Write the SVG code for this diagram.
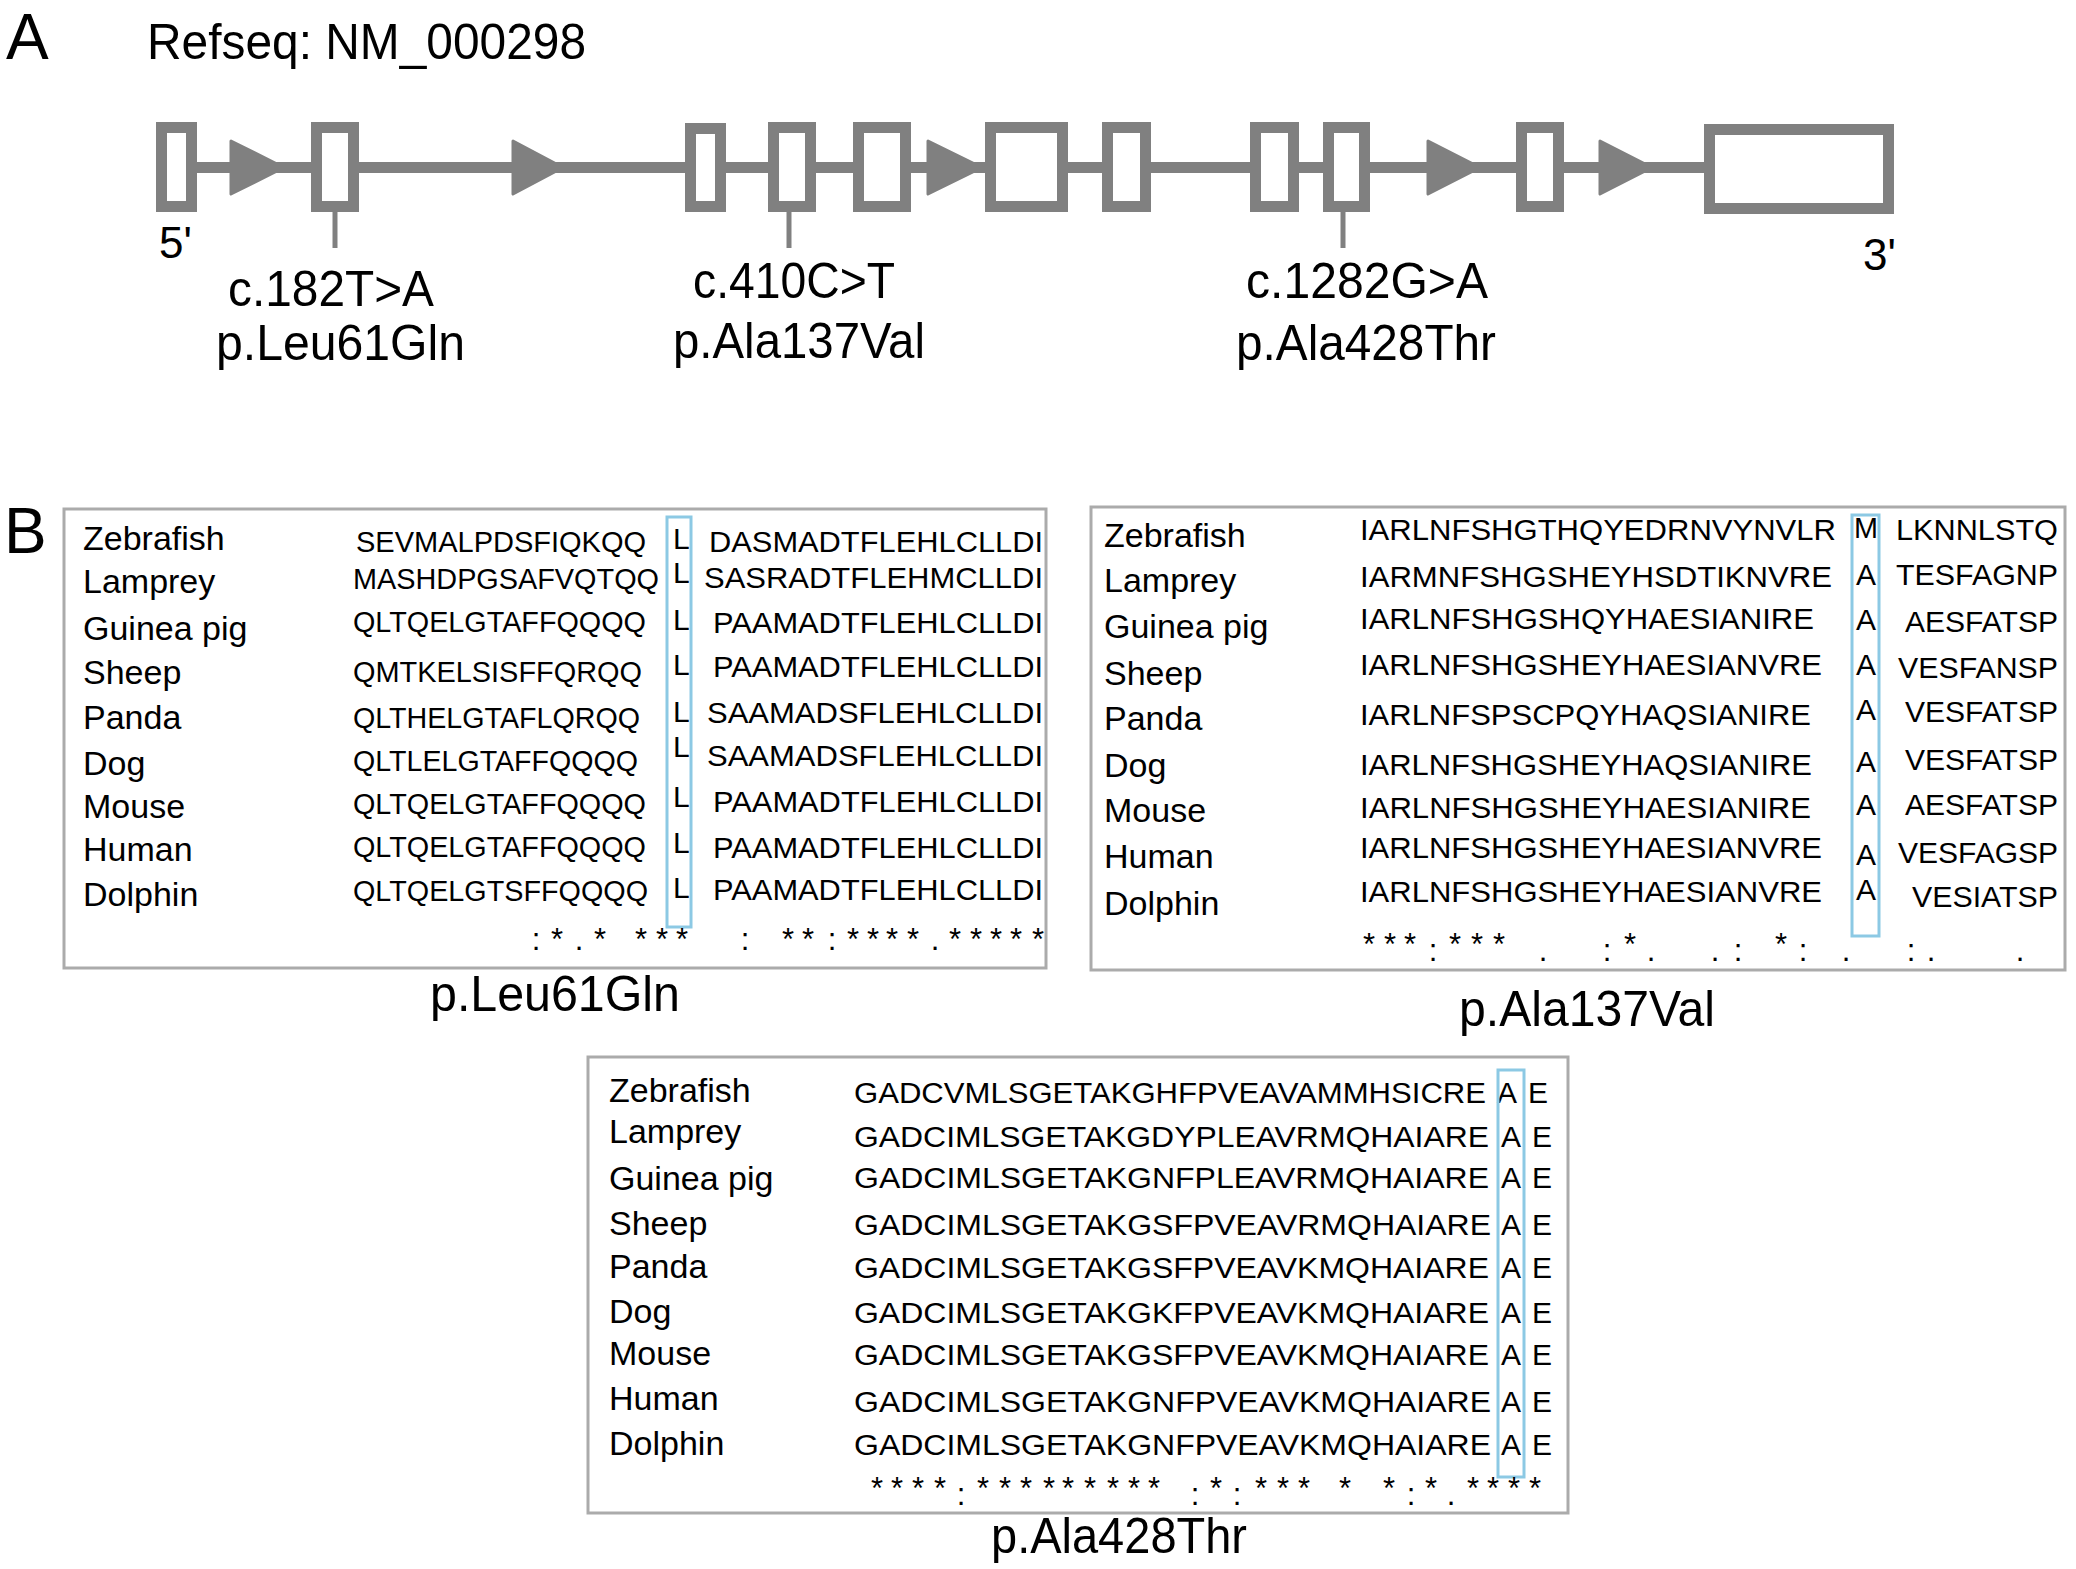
<svg xmlns="http://www.w3.org/2000/svg" width="2076" height="1569" viewBox="0 0 2076 1569">
<style>
text{font-family:"Liberation Sans",Arial,Helvetica,sans-serif;fill:#000}
.big{font-size:64px}
.head{font-size:50px}
.mut{font-size:50px}
.sp{font-size:34px}
.seq{font-size:30px}
.cons{font-size:31px}
.exon{fill:#fff;stroke:#808080;stroke-width:11}
.intron{stroke:#808080;stroke-width:11;fill:none}
.arr{fill:#808080;stroke:#808080;stroke-width:3;stroke-linejoin:round}
.tick{stroke:#808080;stroke-width:5}
.box{fill:#fff;stroke:#ababab;stroke-width:3}
.hl{fill:none;stroke:#8cc9e4;stroke-width:3}
</style>
<rect width="2076" height="1569" fill="#fff"/>

<g id="panel-A">
<text class="big" x="6" y="59">A</text>
<text class="head" x="147" y="59" textLength="439" lengthAdjust="spacingAndGlyphs">Refseq: NM_000298</text>

<g id="connectors">
<line class="intron" x1="197" y1="167.5" x2="1704" y2="167.5"/>
<polygon class="arr" points="231,141 284,167.5 231,194"/>
<polygon class="arr" points="513,141 563,167.5 513,194"/>
<polygon class="arr" points="928,141 982,167.5 928,194"/>
<polygon class="arr" points="1428,141 1480,167.5 1428,194"/>
<polygon class="arr" points="1600,141 1652,167.5 1600,194"/>
<line class="tick" x1="335" y1="212" x2="335" y2="248"/>
<line class="tick" x1="789" y1="212" x2="789" y2="248"/>
<line class="tick" x1="1343" y1="212" x2="1343" y2="248"/>
</g>

<g id="exon1"><rect class="exon" x="161.5" y="127.5" width="30" height="79"/></g>
<g id="exon2"><rect class="exon" x="316.5" y="127.5" width="37" height="79"/></g>
<g id="exon3"><rect class="exon" x="690.5" y="128.5" width="30" height="78"/></g>
<g id="exon4"><rect class="exon" x="773.5" y="127.5" width="37" height="79"/></g>
<g id="exon5"><rect class="exon" x="858.5" y="127.5" width="47" height="79"/></g>
<g id="exon6"><rect class="exon" x="990.5" y="127.5" width="72" height="79"/></g>
<g id="exon7"><rect class="exon" x="1107.5" y="127.5" width="38" height="79"/></g>
<g id="exon8"><rect class="exon" x="1255.5" y="127.5" width="38" height="79"/></g>
<g id="exon9"><rect class="exon" x="1328.5" y="127.5" width="36" height="79"/></g>
<g id="exon10"><rect class="exon" x="1521.5" y="127.5" width="37" height="79"/></g>
<g id="exon11"><rect class="exon" x="1709.5" y="129.5" width="179" height="79"/></g>

<text class="mut" x="159" y="258" style="font-size:44px">5'</text>
<text class="mut" x="1863" y="270" style="font-size:44px">3'</text>

<g id="mut1">
<text class="mut" x="228" y="306" textLength="206" lengthAdjust="spacingAndGlyphs">c.182T&gt;A</text>
<text class="mut" x="216" y="360" textLength="249" lengthAdjust="spacingAndGlyphs">p.Leu61Gln</text>
</g>
<g id="mut2">
<text class="mut" x="693" y="298" textLength="202" lengthAdjust="spacingAndGlyphs">c.410C&gt;T</text>
<text class="mut" x="673" y="358" textLength="252" lengthAdjust="spacingAndGlyphs">p.Ala137Val</text>
</g>
<g id="mut3">
<text class="mut" x="1246" y="298" textLength="242" lengthAdjust="spacingAndGlyphs">c.1282G&gt;A</text>
<text class="mut" x="1236" y="360" textLength="260" lengthAdjust="spacingAndGlyphs">p.Ala428Thr</text>
</g>
</g>

<g id="panel-B">
<text class="big" x="4" y="553">B</text>

<g id="align1">
<rect class="box" x="64" y="509" width="982" height="459"/>
<text class="sp" x="83" y="550">Zebrafish</text>
<text class="sp" x="83" y="593">Lamprey</text>
<text class="sp" x="83" y="640">Guinea pig</text>
<text class="sp" x="83" y="684">Sheep</text>
<text class="sp" x="83" y="729">Panda</text>
<text class="sp" x="83" y="775">Dog</text>
<text class="sp" x="83" y="818">Mouse</text>
<text class="sp" x="83" y="861">Human</text>
<text class="sp" x="83" y="906">Dolphin</text>
<text class="seq" x="356" y="552" textLength="290" lengthAdjust="spacingAndGlyphs">SEVMALPDSFIQKQQ</text>
<text class="seq" x="353" y="589" textLength="306" lengthAdjust="spacingAndGlyphs">MASHDPGSAFVQTQQ</text>
<text class="seq" x="353" y="632" textLength="293" lengthAdjust="spacingAndGlyphs">QLTQELGTAFFQQQQ</text>
<text class="seq" x="353" y="682" textLength="289" lengthAdjust="spacingAndGlyphs">QMTKELSISFFQRQQ</text>
<text class="seq" x="353" y="728" textLength="287" lengthAdjust="spacingAndGlyphs">QLTHELGTAFLQRQQ</text>
<text class="seq" x="353" y="771" textLength="285" lengthAdjust="spacingAndGlyphs">QLTLELGTAFFQQQQ</text>
<text class="seq" x="353" y="814" textLength="293" lengthAdjust="spacingAndGlyphs">QLTQELGTAFFQQQQ</text>
<text class="seq" x="353" y="857" textLength="293" lengthAdjust="spacingAndGlyphs">QLTQELGTAFFQQQQ</text>
<text class="seq" x="353" y="901" textLength="295" lengthAdjust="spacingAndGlyphs">QLTQELGTSFFQQQQ</text>
<text class="seq" x="673" y="549">L</text>
<text class="seq" x="673" y="583">L</text>
<text class="seq" x="673" y="630">L</text>
<text class="seq" x="673" y="675">L</text>
<text class="seq" x="673" y="722">L</text>
<text class="seq" x="673" y="757">L</text>
<text class="seq" x="673" y="807">L</text>
<text class="seq" x="673" y="853">L</text>
<text class="seq" x="673" y="898">L</text>
<text class="seq" x="709" y="552" textLength="334" lengthAdjust="spacingAndGlyphs">DASMADTFLEHLCLLDI</text>
<text class="seq" x="704" y="588" textLength="339" lengthAdjust="spacingAndGlyphs">SASRADTFLEHMCLLDI</text>
<text class="seq" x="713" y="633" textLength="330" lengthAdjust="spacingAndGlyphs">PAAMADTFLEHLCLLDI</text>
<text class="seq" x="713" y="677" textLength="330" lengthAdjust="spacingAndGlyphs">PAAMADTFLEHLCLLDI</text>
<text class="seq" x="707" y="723" textLength="336" lengthAdjust="spacingAndGlyphs">SAAMADSFLEHLCLLDI</text>
<text class="seq" x="707" y="766" textLength="336" lengthAdjust="spacingAndGlyphs">SAAMADSFLEHLCLLDI</text>
<text class="seq" x="713" y="812" textLength="330" lengthAdjust="spacingAndGlyphs">PAAMADTFLEHLCLLDI</text>
<text class="seq" x="713" y="858" textLength="330" lengthAdjust="spacingAndGlyphs">PAAMADTFLEHLCLLDI</text>
<text class="seq" x="713" y="900" textLength="330" lengthAdjust="spacingAndGlyphs">PAAMADTFLEHLCLLDI</text>
<rect class="hl" x="667" y="517" width="24" height="410"/>
<text class="cons" text-anchor="middle" x="536 557 579 600 641 662 682 745 788 808 832 853 873 892 913 935 955 976 996 1016 1038" y="950">:*.****:**:****.*****</text>
<text class="mut" x="430" y="1011" textLength="250" lengthAdjust="spacingAndGlyphs">p.Leu61Gln</text>
</g>

<g id="align2">
<rect class="box" x="1091" y="507" width="974" height="463"/>
<text class="sp" x="1104" y="547">Zebrafish</text>
<text class="sp" x="1104" y="592">Lamprey</text>
<text class="sp" x="1104" y="638">Guinea pig</text>
<text class="sp" x="1104" y="685">Sheep</text>
<text class="sp" x="1104" y="730">Panda</text>
<text class="sp" x="1104" y="777">Dog</text>
<text class="sp" x="1104" y="822">Mouse</text>
<text class="sp" x="1104" y="868">Human</text>
<text class="sp" x="1104" y="915">Dolphin</text>
<text class="seq" x="1360" y="540" textLength="476" lengthAdjust="spacingAndGlyphs">IARLNFSHGTHQYEDRNVYNVLR</text>
<text class="seq" x="1360" y="587" textLength="472" lengthAdjust="spacingAndGlyphs">IARMNFSHGSHEYHSDTIKNVRE</text>
<text class="seq" x="1360" y="629" textLength="454" lengthAdjust="spacingAndGlyphs">IARLNFSHGSHQYHAESIANIRE</text>
<text class="seq" x="1360" y="675" textLength="462" lengthAdjust="spacingAndGlyphs">IARLNFSHGSHEYHAESIANVRE</text>
<text class="seq" x="1360" y="725" textLength="451" lengthAdjust="spacingAndGlyphs">IARLNFSPSCPQYHAQSIANIRE</text>
<text class="seq" x="1360" y="775" textLength="452" lengthAdjust="spacingAndGlyphs">IARLNFSHGSHEYHAQSIANIRE</text>
<text class="seq" x="1360" y="818" textLength="451" lengthAdjust="spacingAndGlyphs">IARLNFSHGSHEYHAESIANIRE</text>
<text class="seq" x="1360" y="858" textLength="462" lengthAdjust="spacingAndGlyphs">IARLNFSHGSHEYHAESIANVRE</text>
<text class="seq" x="1360" y="902" textLength="462" lengthAdjust="spacingAndGlyphs">IARLNFSHGSHEYHAESIANVRE</text>
<text class="seq" x="1854" y="538" textLength="24" lengthAdjust="spacingAndGlyphs">M</text>
<text class="seq" x="1856" y="585">A</text>
<text class="seq" x="1856" y="630">A</text>
<text class="seq" x="1856" y="675">A</text>
<text class="seq" x="1856" y="720">A</text>
<text class="seq" x="1856" y="772">A</text>
<text class="seq" x="1856" y="815">A</text>
<text class="seq" x="1856" y="865">A</text>
<text class="seq" x="1856" y="900">A</text>
<text class="seq" x="1896" y="540" textLength="162" lengthAdjust="spacingAndGlyphs">LKNNLSTQ</text>
<text class="seq" x="1896" y="585" textLength="162" lengthAdjust="spacingAndGlyphs">TESFAGNP</text>
<text class="seq" x="1905" y="632" textLength="153" lengthAdjust="spacingAndGlyphs">AESFATSP</text>
<text class="seq" x="1898" y="678" textLength="160" lengthAdjust="spacingAndGlyphs">VESFANSP</text>
<text class="seq" x="1905" y="722" textLength="153" lengthAdjust="spacingAndGlyphs">VESFATSP</text>
<text class="seq" x="1905" y="770" textLength="153" lengthAdjust="spacingAndGlyphs">VESFATSP</text>
<text class="seq" x="1905" y="815" textLength="153" lengthAdjust="spacingAndGlyphs">AESFATSP</text>
<text class="seq" x="1898" y="863" textLength="160" lengthAdjust="spacingAndGlyphs">VESFAGSP</text>
<text class="seq" x="1912" y="907" textLength="146" lengthAdjust="spacingAndGlyphs">VESIATSP</text>
<rect class="hl" x="1852" y="515" width="27" height="421"/>
<text class="cons" text-anchor="middle" x="1369 1390 1410 1433 1455 1477 1499 1543 1607 1630 1651 1715 1738 1781 1803 1846 1911 1931 2020" y="955 955 955 961 955 955 955 961 961 955 961 961 961 955 961 961 961 961 961">***:***.:*..:*:.:..</text>
<text class="mut" x="1459" y="1026" textLength="256" lengthAdjust="spacingAndGlyphs">p.Ala137Val</text>
</g>

<g id="align3">
<rect class="box" x="588" y="1057" width="980" height="456"/>
<text class="sp" x="609" y="1102">Zebrafish</text>
<text class="sp" x="609" y="1143">Lamprey</text>
<text class="sp" x="609" y="1190">Guinea pig</text>
<text class="sp" x="609" y="1235">Sheep</text>
<text class="sp" x="609" y="1278">Panda</text>
<text class="sp" x="609" y="1323">Dog</text>
<text class="sp" x="609" y="1365">Mouse</text>
<text class="sp" x="609" y="1410">Human</text>
<text class="sp" x="609" y="1455">Dolphin</text>
<text class="seq" x="854" y="1103" textLength="632" lengthAdjust="spacingAndGlyphs">GADCVMLSGETAKGHFPVEAVAMMHSICRE</text>
<text class="seq" x="854" y="1147" textLength="635" lengthAdjust="spacingAndGlyphs">GADCIMLSGETAKGDYPLEAVRMQHAIARE</text>
<text class="seq" x="854" y="1188" textLength="635" lengthAdjust="spacingAndGlyphs">GADCIMLSGETAKGNFPLEAVRMQHAIARE</text>
<text class="seq" x="854" y="1235" textLength="637" lengthAdjust="spacingAndGlyphs">GADCIMLSGETAKGSFPVEAVRMQHAIARE</text>
<text class="seq" x="854" y="1278" textLength="635" lengthAdjust="spacingAndGlyphs">GADCIMLSGETAKGSFPVEAVKMQHAIARE</text>
<text class="seq" x="854" y="1323" textLength="635" lengthAdjust="spacingAndGlyphs">GADCIMLSGETAKGKFPVEAVKMQHAIARE</text>
<text class="seq" x="854" y="1365" textLength="635" lengthAdjust="spacingAndGlyphs">GADCIMLSGETAKGSFPVEAVKMQHAIARE</text>
<text class="seq" x="854" y="1412" textLength="637" lengthAdjust="spacingAndGlyphs">GADCIMLSGETAKGNFPVEAVKMQHAIARE</text>
<text class="seq" x="854" y="1455" textLength="637" lengthAdjust="spacingAndGlyphs">GADCIMLSGETAKGNFPVEAVKMQHAIARE</text>
<text class="seq" x="1497" y="1103">A</text><text class="seq" x="1528" y="1103">E</text>
<text class="seq" x="1501" y="1147">A</text><text class="seq" x="1532" y="1147">E</text>
<text class="seq" x="1501" y="1188">A</text><text class="seq" x="1532" y="1188">E</text>
<text class="seq" x="1501" y="1235">A</text><text class="seq" x="1532" y="1235">E</text>
<text class="seq" x="1501" y="1278">A</text><text class="seq" x="1532" y="1278">E</text>
<text class="seq" x="1501" y="1323">A</text><text class="seq" x="1532" y="1323">E</text>
<text class="seq" x="1501" y="1365">A</text><text class="seq" x="1532" y="1365">E</text>
<text class="seq" x="1501" y="1412">A</text><text class="seq" x="1532" y="1412">E</text>
<text class="seq" x="1501" y="1455">A</text><text class="seq" x="1532" y="1455">E</text>
<rect class="hl" x="1498" y="1070" width="26" height="407"/>
<text class="cons" text-anchor="middle" x="877 897 918 940 961 983 1005 1026 1049 1068 1090 1113 1134 1154 1195 1216 1237 1261 1283 1304 1345 1389 1411 1431 1451 1473 1493 1514 1535" y="1499 1499 1499 1499 1505 1499 1499 1499 1499 1499 1499 1499 1499 1499 1505 1499 1505 1499 1499 1499 1499 1499 1505 1499 1505 1499 1499 1499 1499">****:*********:*:*****:*.****</text>
<text class="mut" x="991" y="1553" textLength="256" lengthAdjust="spacingAndGlyphs">p.Ala428Thr</text>
</g>
</g>
</svg>
